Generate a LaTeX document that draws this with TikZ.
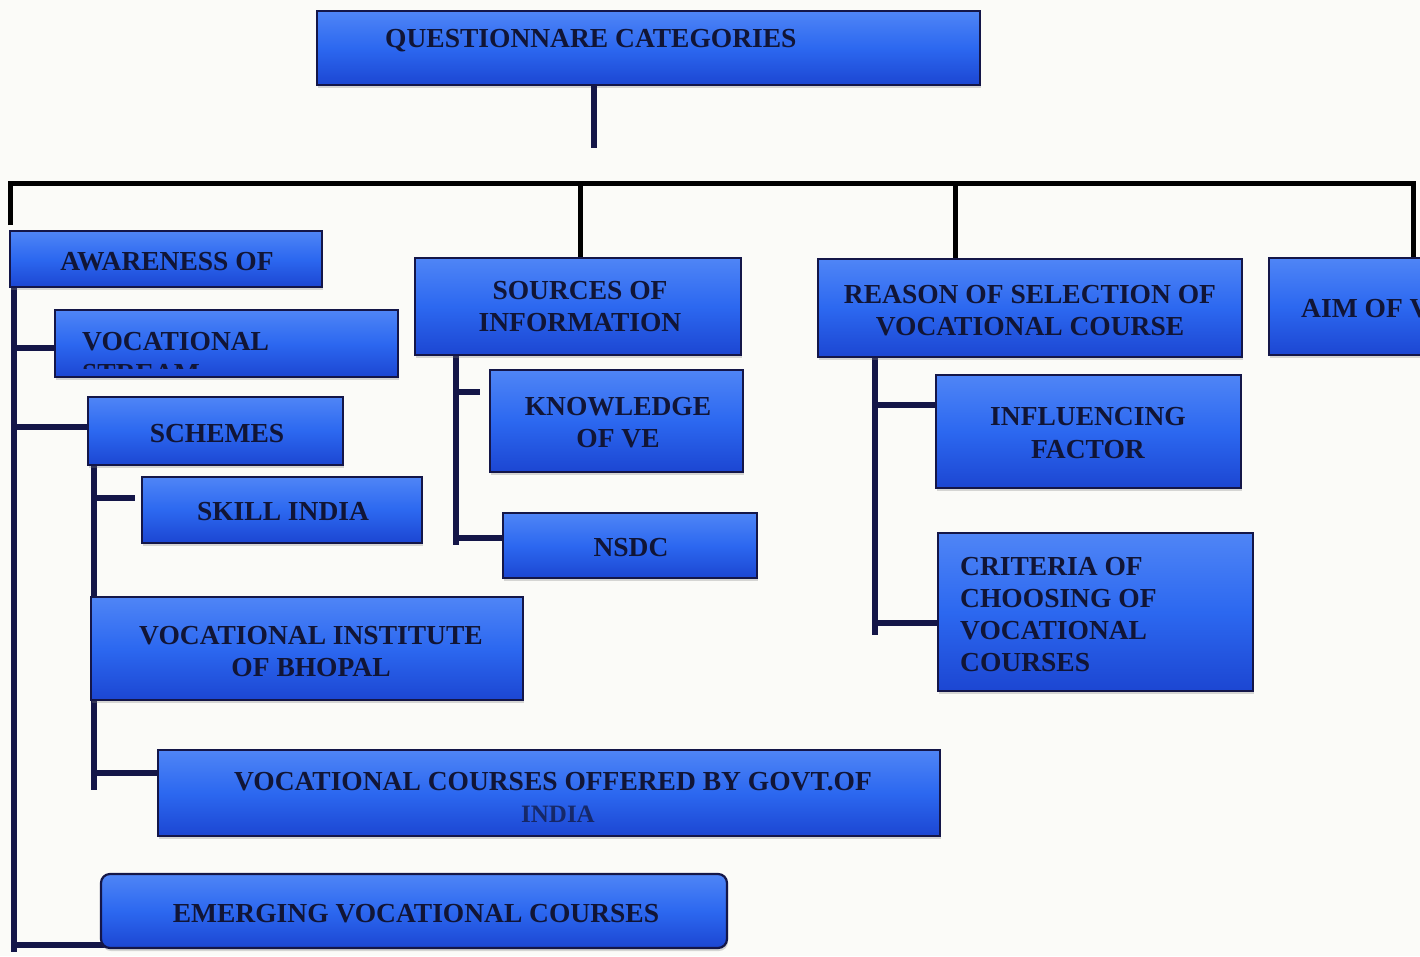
\documentclass[tikz,border=0pt]{standalone}
\usepackage{fontspec}
\setmainfont{Liberation Serif}
\usetikzlibrary{shadows}
\definecolor{navy}{HTML}{141648}
\definecolor{boxtop}{HTML}{4F85F6}
\definecolor{boxmid}{HTML}{2C68F0}
\definecolor{boxbot}{HTML}{1C46D2}
\definecolor{txt}{HTML}{111536}
\definecolor{bg}{HTML}{FBFBF8}
\tikzset{
  box/.style={draw=navy, line width=2.2pt, top color=boxtop, bottom color=boxbot, middle color=boxmid, inner sep=0pt,
    drop shadow={shadow xshift=1pt, shadow yshift=-3pt, opacity=0.3}},
  lbl/.style={text=txt, font=\fontsize{27.5}{32}\selectfont\bfseries, inner sep=0pt},
  bus/.style={line width=5pt, draw=black},
  link/.style={line width=5.5pt, draw=navy},
}
\newcommand\bx[6][]{\node[box,#1, minimum width={#5-#3}, minimum height={#6-#4}] (#2) at ({(#3+#5)/2},{(#4+#6)/2}) {};}
\begin{document}
\begin{tikzpicture}[x=1pt,y=-1pt]
\clip (0,0) rectangle (1420,956);
\fill[bg] (0,0) rectangle (1420,956);
% coordinates for connectors
\coordinate (rootend) at (594,148);
\coordinate (dropL) at (10,225);
\coordinate (busL) at (10,183);
\coordinate (busR) at (1413,183);
\coordinate (sdrop) at (580,183);
\coordinate (rdrop) at (955,183);
\coordinate (lt) at (14,284);
\coordinate (lb) at (14,952);
\coordinate (lvoc) at (14,348);
\coordinate (lsch) at (14,427);
\coordinate (lemg) at (14,945);
\coordinate (st) at (94,462);
\coordinate (sb) at (94,790);
\coordinate (sski) at (94,498);
\coordinate (svco) at (94,773);
\coordinate (qt) at (456,352);
\coordinate (qb) at (456,545);
\coordinate (qkno) at (456,392);
\coordinate (qkne) at (480,392);
\coordinate (qnsd) at (456,538);
\coordinate (rt) at (875,354);
\coordinate (rb) at (875,635);
\coordinate (rinf) at (875,405);
\coordinate (rcri) at (875,623);
% connectors
\draw[bus] (dropL) -- (busL) -- (busR) -- (1413,258);
\draw[bus] (sdrop) -- (580,258);
\draw[bus] (rdrop) -- (955,262);
\draw[link] (lt) -- (lb);
\draw[link] (lvoc) -- (58,348);
\draw[link] (lsch) -- (90,427);
\draw[link] (lemg) -- (105,945);
\draw[link] (st) -- (sb);
\draw[link] (sski) -- (135,498);
\draw[link] (svco) -- (160,773);
\draw[link] (qt) -- (qb);
\draw[link] (qkno) -- (qkne);
\draw[link] (qnsd) -- (505,538);
\draw[link] (rt) -- (rb);
\draw[link] (rinf) -- (938,405);
\draw[link] (rcri) -- (940,623);
% boxes
\bx{root}{317}{11}{980}{85}
\bx{aw}{10}{231}{322}{287}
\bx{voc}{55}{310}{398}{377}
\bx{sch}{88}{397}{343}{465}
\bx{ski}{142}{477}{422}{543}
\bx{vib}{91}{597}{523}{700}
\bx{vco}{158}{750}{940}{836}
\bx[rounded corners=9pt]{emg}{101}{874}{727}{948}
\bx{src}{415}{258}{741}{355}
\bx{kno}{490}{370}{743}{472}
\bx{nsd}{503}{513}{757}{578}
\bx{rsn}{818}{259}{1242}{357}
\bx{inf}{936}{375}{1241}{488}
\bx{cri}{938}{533}{1253}{691}
\bx{aim}{1269}{258}{1470}{355}
\draw[link] (root.south -| rootend) -- (rootend);
% texts
\node[lbl, anchor=base west] (troot) at (385,47) {QUESTIONNARE CATEGORIES};
\node[lbl, anchor=base] (taw) at (167,270) {AWARENESS OF};
\node[lbl, anchor=base west] (tvoc) at (82,350) {VOCATIONAL};
\begin{scope}
\clip (55,310) rectangle (398,368);
\node[lbl, anchor=base west] (tvoc2) at (82,382) {STREAM};
\end{scope}
\node[lbl, anchor=base] (tsch) at (217,442) {SCHEMES};
\node[lbl, anchor=base] (tski) at (283,520) {SKILL INDIA};
\node[lbl, anchor=base] (tvib1) at (311,644) {VOCATIONAL INSTITUTE};
\node[lbl, anchor=base] (tvib2) at (311,676) {OF BHOPAL};
\node[lbl, anchor=base] (tvco1) at (553,790) {VOCATIONAL COURSES OFFERED BY GOVT.OF};
\node[lbl, anchor=base, font=\fontsize{25}{28}\selectfont\bfseries, text opacity=0.7] (tvco2) at (558,822) {INDIA};
\node[lbl, anchor=base] (temg) at (416,922) {EMERGING VOCATIONAL COURSES};
\node[lbl, anchor=base] (tsrc1) at (580,299) {SOURCES OF};
\node[lbl, anchor=base] (tsrc2) at (580,331) {INFORMATION};
\node[lbl, anchor=base] (tkno1) at (618,415) {KNOWLEDGE};
\node[lbl, anchor=base] (tkno2) at (618,447) {OF VE};
\node[lbl, anchor=base] (tnsd) at (631,556) {NSDC};
\node[lbl, anchor=base] (trsn1) at (1030,303) {REASON OF SELECTION OF};
\node[lbl, anchor=base] (trsn2) at (1030,335) {VOCATIONAL COURSE};
\node[lbl, anchor=base] (tinf1) at (1088,425) {INFLUENCING};
\node[lbl, anchor=base] (tinf2) at (1088,458) {FACTOR};
\node[lbl, anchor=base west] (tcri1) at (960,575) {CRITERIA OF};
\node[lbl, anchor=base west] (tcri2) at (960,607) {CHOOSING OF};
\node[lbl, anchor=base west] (tcri3) at (960,639) {VOCATIONAL};
\node[lbl, anchor=base west] (tcri4) at (960,671) {COURSES};
\node[lbl, anchor=base west] (taim) at (1301,317) {AIM OF V};
\end{tikzpicture}
\end{document}
